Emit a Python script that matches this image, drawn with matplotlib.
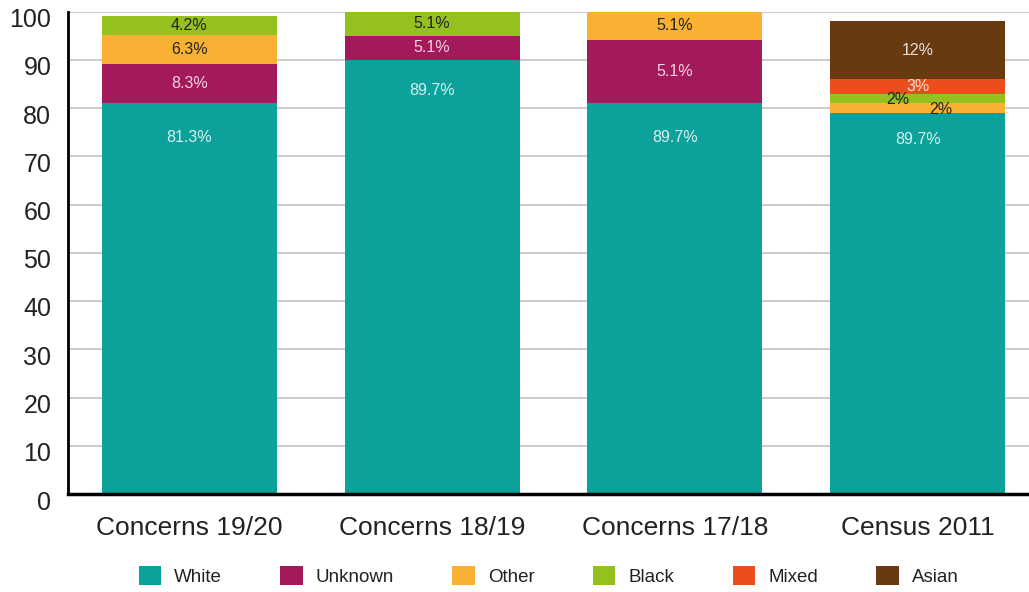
import numpy as np
import matplotlib
matplotlib.use('Agg')
import matplotlib.pyplot as plt
import matplotlib.transforms as mtransforms

plt.rcParams['font.family'] = ['Liberation Sans', 'DejaVu Sans']

# categories and stacked heights (as drawn in the chart)
categories = ['Concerns 19/20', 'Concerns 18/19', 'Concerns 17/18', 'Census 2011']
series = ['White', 'Unknown', 'Other', 'Black', 'Mixed', 'Asian']
white = [81.0, 90.0, 81.0, 79.0]
unknown = [8.1, 5.0, 13.0, 0.0]
other = [6.0, 0.0, 6.0, 2.0]
black = [4.0, 5.0, 0.0, 2.0]
mixed = [0.0, 0.0, 0.0, 3.0]
asian = [0.0, 0.0, 0.0, 12.0]

# printed labels (as shown on the chart)
white_lbl = ['81.3%', '89.7%', '89.7%', '89.7%']
unknown_lbl = ['8.3%', '5.1%', '5.1%', '']
other_lbl = ['6.3%', '', '5.1%', '2%']
black_lbl = ['4.2%', '5.1%', '', '2%']
mixed_lbl = ['', '', '', '3%']
asian_lbl = ['', '', '', '12%']

colors = ['#0ca29b', '#a31a5b', '#f8b133', '#95c11f', '#e94e1b', '#673a12']
text_colors = ['#d9f0ee', '#f3d3e1', '#222222', '#222222', '#fbe0d6', '#e8e0d8']

values = [white, unknown, other, black, mixed, asian]
labels = [white_lbl, unknown_lbl, other_lbl, black_lbl, mixed_lbl, asian_lbl]

# how far below the top of the white bar its label sits (points)
white_label_drop = [-25, -22, -25, -19]

fig = plt.figure(figsize=(10.29, 5.92), dpi=100)
ax = fig.add_axes([68 / 1029, 98 / 592, 971 / 1029, 482.5 / 592])

x = np.arange(len(categories))
bottom = np.zeros(len(categories))
for name, vals, col, lbls, tc in zip(series, values, colors, labels, text_colors):
    vals = np.array(vals)
    ax.bar(x, vals, width=0.72, bottom=bottom, color=col, label=name, zorder=3)
    for i, (v, lb) in enumerate(zip(vals, lbls)):
        if not lb:
            continue
        if name == 'White':
            ax.annotate(lb, (x[i], bottom[i] + v), xytext=(0, white_label_drop[i]), textcoords='offset points',
                        ha='center', va='center', fontsize=11.5, color=tc, zorder=4)
        else:
            dx = 0
            dy = 0
            if i == 3 and name == 'Black':
                dx, dy = -14, -1
            if i == 3 and name == 'Other':
                dx, dy = 17, -1
            ax.annotate(lb, (x[i], bottom[i] + v / 2), xytext=(dx, dy), textcoords='offset points',
                        ha='center', va='center', fontsize=11.5, color=tc, zorder=4)
    bottom += vals

ax.set_xlim(-0.5, 3.5)
ax.set_ylim(0, 100)
ax.set_yticks(np.arange(0, 101, 10))
ax.set_xticks(x)
ax.set_xticklabels(categories, fontsize=19, color='#222222')
ax.tick_params(axis='y', labelsize=18, labelcolor='#222222', length=0, pad=12)
ax.tick_params(axis='x', length=0, pad=16)
offset = mtransforms.ScaledTranslation(0, -0.06, fig.dpi_scale_trans)
for lab in ax.get_yticklabels():
    lab.set_transform(lab.get_transform() + offset)

ax.grid(axis='y', color='#c4c4c4', linewidth=1.2, zorder=0)
for s in ['top', 'right']:
    ax.spines[s].set_visible(False)
ax.spines['left'].set_linewidth(2)
ax.spines['bottom'].set_linewidth(2.5)
ax.spines['left'].set_zorder(5)
ax.spines['bottom'].set_zorder(5)

ax.legend(loc='center', bbox_to_anchor=(0.495, -0.17), ncol=6, frameon=False, fontsize=13.5,
          handlelength=1.2, handleheight=1.2, handletextpad=0.7, columnspacing=3.1,
          labelcolor='#222222')

fig.savefig('out.png', dpi=100)
